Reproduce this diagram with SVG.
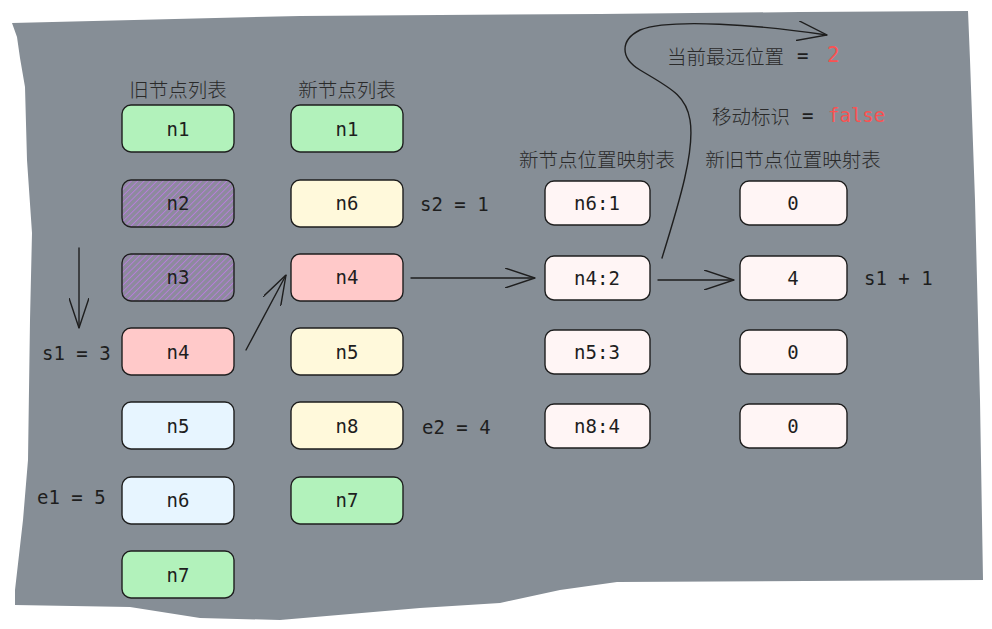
<svg xmlns="http://www.w3.org/2000/svg" width="992" height="629" viewBox="0 0 992 629">
<defs>
<pattern id="hatch" patternUnits="userSpaceOnUse" width="4.5" height="4.5" patternTransform="rotate(45)">
<rect x="0" y="0" width="4.5" height="4.5" fill="#8d8a9e"/>
<line x1="0" y1="0" x2="0" y2="4.5" stroke="#b77ddb" stroke-width="1.8"/>
</pattern>
<marker id="ah" viewBox="0 0 30 20" refX="30" refY="10" markerWidth="30" markerHeight="20" markerUnits="userSpaceOnUse" orient="auto">
<path d="M0 0 L30 10 L0 20" fill="none" stroke="#1e1e1e" stroke-width="1.4"/>
</marker>
</defs>
<style>
.bx{stroke:#1e1e1e;stroke-width:1.4}
.g{fill:#b2f2bb}.p{fill:url(#hatch)}.r{fill:#ffc9c9}.y{fill:#fff9db}.b{fill:#e7f5ff}.m{fill:#fff5f5}
.t{font-family:"DejaVu Sans Mono","Liberation Mono",monospace;font-size:19px;fill:#1e1e1e;text-anchor:middle;dominant-baseline:central}
.tl{font-family:"DejaVu Sans Mono","Liberation Mono",monospace;font-size:19px;fill:#1e1e1e;dominant-baseline:central}
.red{fill:#fa5252}
.cn{font-family:"Noto Sans CJK SC",sans-serif;font-size:19.5px;font-weight:300;fill:#2a2a2a;dominant-baseline:central}
.c{fill:none;stroke:#1e1e1e;stroke-width:1.4;stroke-linecap:round}
</style>
<path id="bg" d="M12 23 L300 16 L600 14 L800 12 L968 11 L970 60 L975 200 L980 400 L982 520 L983 580 L617 582 L560 590 L500 603 L420 608 L280 620 L200 618 L130 607 L15 605 L15 590 L23 520 L28 460 L30 320 L32 233 L27 160 L25 87 L20 58 L17 37 Z" fill="#868e96"/>

<g id="labels">
<text class="cn" x="178" y="88" text-anchor="middle">旧节点列表</text>
<text class="cn" x="347" y="88" text-anchor="middle">新节点列表</text>
<text class="cn" x="597" y="158" text-anchor="middle">新节点位置映射表</text>
<text class="cn" x="793" y="158" text-anchor="middle">新旧节点位置映射表</text>
<text class="cn" x="667" y="55">当前最远位置</text>
<text class="tl" x="797" y="55">=</text>
<text class="tl red" x="827" y="55" style="font-size:21px">2</text>
<text class="cn" x="712" y="115">移动标识</text>
<text class="tl" x="802" y="115">=</text>
<text class="tl red" x="828" y="115">false</text>
<text class="tl" x="420" y="204">s2 = 1</text>
<text class="tl" x="422" y="427">e2 = 4</text>
<text class="tl" x="42" y="353">s1 = 3</text>
<text class="tl" x="37" y="497">e1 = 5</text>
<text class="tl" x="864" y="278">s1 + 1</text>
</g>

<g id="old-n1"><rect class="bx g" x="122" y="105" width="112" height="47" rx="9"/><text class="t" x="178" y="129">n1</text></g>
<g id="old-n2"><rect class="bx p" x="122" y="180" width="112" height="47" rx="9"/><text class="t" x="178" y="203">n2</text></g>
<g id="old-n3"><rect class="bx p" x="122" y="254" width="112" height="47" rx="9"/><text class="t" x="178" y="277">n3</text></g>
<g id="old-n4"><rect class="bx r" x="122" y="328" width="112" height="47" rx="9"/><text class="t" x="178" y="352">n4</text></g>
<g id="old-n5"><rect class="bx b" x="122" y="402" width="112" height="47" rx="9"/><text class="t" x="178" y="426">n5</text></g>
<g id="old-n6"><rect class="bx b" x="122" y="477" width="112" height="47" rx="9"/><text class="t" x="178" y="500">n6</text></g>
<g id="old-n7"><rect class="bx g" x="122" y="551" width="112" height="47" rx="9"/><text class="t" x="178" y="575">n7</text></g>

<g id="new-n1"><rect class="bx g" x="291" y="105" width="112" height="47" rx="9"/><text class="t" x="347" y="129">n1</text></g>
<g id="new-n6"><rect class="bx y" x="291" y="180" width="112" height="47" rx="9"/><text class="t" x="347" y="203">n6</text></g>
<g id="new-n4"><rect class="bx r" x="291" y="254" width="112" height="47" rx="9"/><text class="t" x="347" y="277">n4</text></g>
<g id="new-n5"><rect class="bx y" x="291" y="328" width="112" height="47" rx="9"/><text class="t" x="347" y="352">n5</text></g>
<g id="new-n8"><rect class="bx y" x="291" y="402" width="112" height="47" rx="9"/><text class="t" x="347" y="426">n8</text></g>
<g id="new-n7"><rect class="bx g" x="291" y="477" width="112" height="47" rx="9"/><text class="t" x="347" y="500">n7</text></g>

<g id="map-n6"><rect class="bx m" x="545" y="181" width="105" height="44" rx="9"/><text class="t" x="597" y="203">n6:1</text></g>
<g id="map-n4"><rect class="bx m" x="545" y="256" width="105" height="44" rx="9"/><text class="t" x="597" y="278">n4:2</text></g>
<g id="map-n5"><rect class="bx m" x="545" y="330" width="105" height="44" rx="9"/><text class="t" x="597" y="352">n5:3</text></g>
<g id="map-n8"><rect class="bx m" x="545" y="404" width="105" height="44" rx="9"/><text class="t" x="597" y="426">n8:4</text></g>

<g id="idx-0"><rect class="bx m" x="740" y="181" width="107" height="44" rx="9"/><text class="t" x="793" y="203">0</text></g>
<g id="idx-1"><rect class="bx m" x="740" y="256" width="107" height="44" rx="9"/><text class="t" x="793" y="278">4</text></g>
<g id="idx-2"><rect class="bx m" x="740" y="330" width="107" height="44" rx="9"/><text class="t" x="793" y="352">0</text></g>
<g id="idx-3"><rect class="bx m" x="740" y="404" width="107" height="44" rx="9"/><text class="t" x="793" y="426">0</text></g>

<g id="connectors">
<path class="c" d="M79 248 L79 328" marker-end="url(#ah)"/>
<path class="c" d="M246 350 L286 275" marker-end="url(#ah)"/>
<path class="c" d="M411 278 L535 278" marker-end="url(#ah)"/>
<path class="c" d="M658 280 L734 280" marker-end="url(#ah)"/>
<path class="c" d="M662 258 C680 200 695 150 690 120 C686 95 670 88 640 70 C620 58 620 40 640 30 C670 18 760 25 827 35" marker-end="url(#ah)"/>
</g>
</svg>
